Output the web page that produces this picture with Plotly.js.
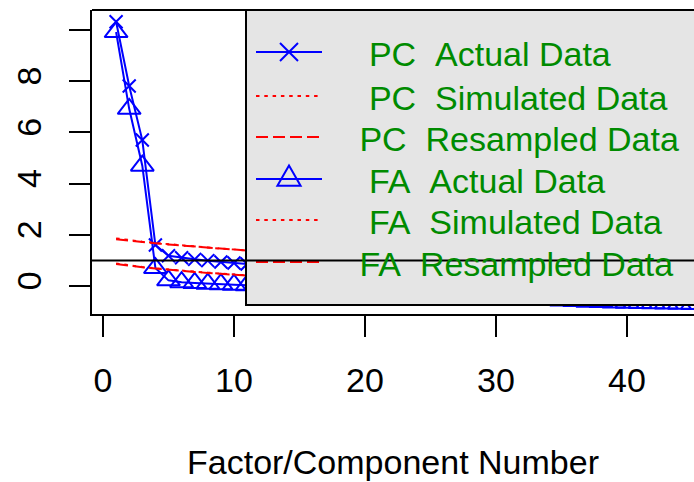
<!DOCTYPE html>
<html><head><meta charset="utf-8">
<script src="https://cdn.plot.ly/plotly-3.0.1.min.js"></script>
<style>html,body{margin:0;padding:0;overflow:hidden;background:#fff}</style>
</head><body><div id="chart" style="width:694px;height:482px"></div>
<script>
const factorNumber = [1,2,3,4,5,6,7,8,9,10,11,12,13,14,15,16,17,18,19,20,21,22,23,24,25,26,27,28,29,30,31,32,33,34,35,36,37,38,39,40,41,42,43,44,45,46,47];
const pcActual = [10.32,7.81,5.70,1.60,1.18,1.10,1.04,0.99,0.94,0.90,0.86,0.82,0.78,0.75,0.72,0.69,0.66,0.63,0.61,0.58,0.56,0.54,0.52,0.50,0.48,0.46,0.44,0.42,0.40,0.39,0.37,0.35,0.34,0.32,0.31,0.29,0.28,0.26,0.25,0.24,0.22,0.21,0.20,0.18,0.17,0.15,0.13];
const faActual = [9.92,6.92,4.70,0.70,0.22,0.15,0.12,0.09,0.07,0.05,0.03,0.00,-0.03,-0.06,-0.09,-0.11,-0.14,-0.16,-0.19,-0.21,-0.23,-0.25,-0.27,-0.29,-0.31,-0.33,-0.35,-0.37,-0.39,-0.41,-0.43,-0.46,-0.53,-0.55,-0.57,-0.59,-0.62,-0.63,-0.64,-0.65,-0.66,-0.67,-0.68,-0.69,-0.70,-0.71,-0.72];
const pcSimulated = [1.86,1.79,1.73,1.68,1.63,1.58,1.54,1.50,1.46,1.42,1.38,1.35,1.31,1.28,1.25,1.22,1.19,1.16,1.13,1.10,1.07,1.05,1.02,0.99,0.97,0.94,0.92,0.89,0.87,0.84,0.82,0.79,0.77,0.75,0.72,0.70,0.68,0.66,0.63,0.61,0.59,0.57,0.55,0.52,0.50,0.48,0.45];
const pcResampled = [1.83,1.77,1.72,1.67,1.62,1.58,1.53,1.49,1.45,1.41,1.37,1.34,1.31,1.27,1.24,1.21,1.18,1.15,1.12,1.10,1.07,1.04,1.02,0.99,0.96,0.94,0.91,0.89,0.86,0.84,0.82,0.79,0.77,0.75,0.73,0.70,0.68,0.66,0.64,0.62,0.60,0.57,0.55,0.53,0.51,0.48,0.46];
const faSimulated = [0.88,0.80,0.74,0.69,0.64,0.60,0.56,0.52,0.48,0.44,0.41,0.38,0.35,0.32,0.29,0.26,0.23,0.20,0.18,0.15,0.12,0.10,0.07,0.05,0.02,0.00,-0.03,-0.05,-0.08,-0.10,-0.13,-0.15,-0.18,-0.20,-0.23,-0.25,-0.28,-0.30,-0.33,-0.35,-0.38,-0.40,-0.43,-0.46,-0.49,-0.52,-0.56];
const faResampled = [0.86,0.79,0.73,0.68,0.63,0.59,0.55,0.51,0.47,0.44,0.40,0.37,0.34,0.31,0.28,0.25,0.23,0.20,0.17,0.15,0.12,0.09,0.07,0.04,0.02,-0.01,-0.03,-0.06,-0.08,-0.11,-0.13,-0.16,-0.18,-0.21,-0.23,-0.26,-0.28,-0.31,-0.33,-0.36,-0.38,-0.41,-0.44,-0.47,-0.50,-0.53,-0.57];
const xTickVals = [0,10,20,30,40];
const yTickVals = [0,2,4,6,8,10];
const yTickText = ['0','2','4','6','8',''];
const legendLabels = ["  PC  Actual Data","  PC  Simulated Data"," PC  Resampled Data","  FA  Actual Data","  FA  Simulated Data"," FA  Resampled Data"];
const xAxisTitle = "Factor/Component Number";
const refLine = 1;

const FONT = 'Liberation Sans, Arial, sans-serif';
const BLUE = '#0000FF', RED = '#FF0000', GREEN = '#008B00';
const DOT = '3.5px,4.8px', DASH = '12px,5px';

// layout geometry (pixels)
const W = 694, H = 482, L = 92, T = 10, B = 168, R = 0;
const PW = W - L - R, PH = H - T - B;
const px = v => (v - L) / PW;
const py = v => (H - B - v) / PH;

const traces = [
  {x: factorNumber, y: pcActual, mode: 'lines+markers', line: {color: BLUE, width: 2},
   marker: {symbol: 'x-thin-open', size: 13, color: BLUE, line: {width: 2, color: BLUE}}},
  {x: factorNumber, y: faActual, mode: 'lines+markers', line: {color: BLUE, width: 2},
   marker: {symbol: 'triangle-up-open', size: 20, color: BLUE, line: {width: 2, color: BLUE}}},
  {x: factorNumber, y: pcSimulated, mode: 'lines', line: {color: RED, width: 2, dash: DOT}},
  {x: factorNumber, y: pcResampled, mode: 'lines', line: {color: RED, width: 2, dash: DASH}},
  {x: factorNumber, y: faSimulated, mode: 'lines', line: {color: RED, width: 2, dash: DOT}},
  {x: factorNumber, y: faResampled, mode: 'lines', line: {color: RED, width: 2, dash: DASH}}
];

// legend (drawn manually, R-style)
const rowY = [52, 96, 137, 179, 220, 262];
const sampleStyle = [
  {color: BLUE, dash: 'solid'}, {color: RED, dash: DOT}, {color: RED, dash: DASH},
  {color: BLUE, dash: 'solid'}, {color: RED, dash: DOT}, {color: RED, dash: DASH}
];
const shapes = [];
shapes.push({type: 'rect', xref: 'paper', yref: 'paper', x0: px(246), x1: 1.3, y0: py(305), y1: 1,
  fillcolor: '#E5E5E5', line: {color: '#000', width: 2}, layer: 'above'});
shapes.push({type: 'line', xref: 'paper', yref: 'paper', x0: 0, x1: 1.3, y0: 1, y1: 1,
  line: {color: '#000', width: 2}, layer: 'above'});
rowY.forEach((yy, i) => {
  shapes.push({type: 'line', xref: 'paper', yref: 'paper', x0: px(256), x1: px(322), y0: py(yy), y1: py(yy),
    line: {color: sampleStyle[i].color, width: 2, dash: sampleStyle[i].dash}, layer: 'above'});
});
const P = (a, b) => px(a).toFixed(5) + ',' + py(b).toFixed(5);
const cx = 289;
shapes.push({type: 'path', xref: 'paper', yref: 'paper', layer: 'above', line: {color: BLUE, width: 2},
  path: 'M' + P(cx-9, rowY[0]-9) + 'L' + P(cx+9, rowY[0]+9) + 'M' + P(cx-9, rowY[0]+9) + 'L' + P(cx+9, rowY[0]-9)});
shapes.push({type: 'path', xref: 'paper', yref: 'paper', layer: 'above', line: {color: BLUE, width: 2},
  path: 'M' + P(cx, rowY[3]-13.5) + 'L' + P(cx+11.6, rowY[3]+6.7) + 'L' + P(cx-11.6, rowY[3]+6.7) + 'Z'});
// reference line (abline h = 1), drawn over the legend as in R
shapes.push({type: 'line', xref: 'paper', yref: 'y', x0: 0, x1: 1.3, y0: refLine, y1: refLine,
  line: {color: '#000', width: 2}, layer: 'above'});

const annotations = legendLabels.map((t, i) => ({
  xref: 'paper', yref: 'paper', x: px(348), y: py(rowY[i] + 2), xanchor: 'left', yanchor: 'middle',
  text: t.replace(/ /g, '\u00a0'), showarrow: false, font: {family: FONT, size: 34, color: GREEN}
}));

const layout = {
  width: W, height: H, margin: {l: L, r: R, t: T, b: B, pad: 0},
  paper_bgcolor: '#fff', plot_bgcolor: '#fff', showlegend: false,
  font: {family: FONT, size: 34, color: '#000'},
  xaxis: {range: [-0.84, 45.12], tickvals: xTickVals, ticks: 'outside', ticklen: 21, tickwidth: 2, tickcolor: '#000',
    showline: true, linecolor: '#000', linewidth: 2, showgrid: false, zeroline: false,
    tickfont: {family: FONT, size: 34, color: '#000'}, ticklabelstandoff: 14,
    title: {text: xAxisTitle, font: {family: FONT, size: 34, color: '#000'}, standoff: 52}},
  yaxis: {range: [-1.094, 10.78], tickvals: yTickVals, ticktext: yTickText, tickangle: -90,
    ticks: 'outside', ticklen: 21, tickwidth: 2, tickcolor: '#000',
    showline: true, linecolor: '#000', linewidth: 2, showgrid: false, zeroline: false,
    tickfont: {family: FONT, size: 34, color: '#000'}, ticklabelstandoff: 14},
  shapes: shapes, annotations: annotations
};
Plotly.newPlot('chart', traces, layout, {displayModeBar: false, staticPlot: true});
</script></body></html>
